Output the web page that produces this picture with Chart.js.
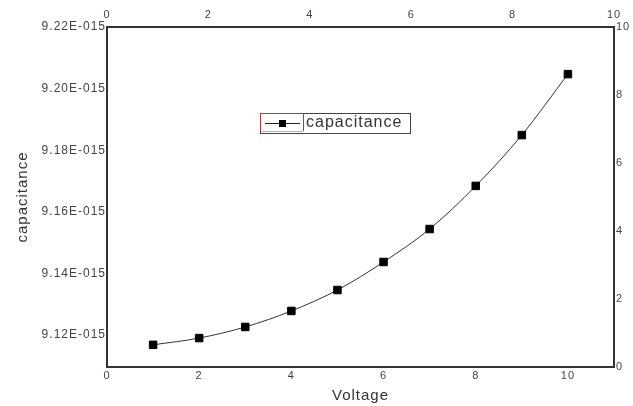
<!DOCTYPE html>
<html>
<head>
<meta charset="utf-8">
<script src="https://cdn.jsdelivr.net/npm/chart.js@4.4.0/dist/chart.umd.min.js"></script>
<style>
html, body { margin: 0; padding: 0; background: #fff; }
</style>
</head>
<body>
<canvas id="capChart" width="633" height="406"></canvas>
<script>
// capacitance is in units of 1E-015
const voltage = [1, 2, 3, 4, 5, 6, 7, 8, 9, 10];
const capacitance = [9.1168, 9.1190, 9.1226, 9.1278, 9.1346, 9.1437, 9.1544, 9.1684, 9.1849, 9.2047];
const capTicks = [9.12, 9.14, 9.16, 9.18, 9.20, 9.22];
const voltTicks = [0, 2, 4, 6, 8, 10];
const topTicks = [0, 2, 4, 6, 8, 10];
const rightTicks = [0, 2, 4, 6, 8, 10];

const fam = '"Liberation Sans", Arial, sans-serif';

// the reference text is slightly letter-spaced
const spacing = {
    id: 'spacing',
    beforeUpdate(chart) { chart.ctx.letterSpacing = '1px'; },
    beforeDraw(chart) { chart.ctx.letterSpacing = '1px'; }
};

// boxed legend sitting inside the plot
const boxLegend = {
    id: 'boxLegend',
    afterDraw(chart) {
        const ctx = chart.ctx;
        const ds = chart.data.datasets[0];
        ctx.save();
        ctx.letterSpacing = '1px';
        ctx.lineWidth = 1;
        ctx.strokeStyle = '#444';
        ctx.strokeRect(260.5, 113.5, 150, 20);
        ctx.strokeStyle = '#b03a3a';
        ctx.beginPath();
        ctx.moveTo(303.5, 131); ctx.lineTo(303.5, 113.5); ctx.lineTo(260.5, 113.5); ctx.lineTo(260.5, 131);
        ctx.stroke();
        ctx.strokeStyle = '#5fd6d6';
        ctx.beginPath(); ctx.moveTo(262, 131.5); ctx.lineTo(303, 131.5); ctx.stroke();
        ctx.strokeStyle = '#222';
        ctx.beginPath(); ctx.moveTo(265, 123.5); ctx.lineTo(300, 123.5); ctx.stroke();
        ctx.fillStyle = '#000';
        ctx.fillRect(279, 120, 7, 7);
        ctx.fillStyle = '#333';
        ctx.font = '16px ' + fam;
        ctx.textBaseline = 'middle';
        ctx.fillText(ds.label, 306, 123);
        ctx.restore();
    }
};

const setTicks = arr => scale => { scale.ticks = arr.map(v => ({ value: v })); };
const noGrid = { display: false, drawTicks: false };
const axisLine = { display: true, color: '#333', width: 2 };

const ctx = document.getElementById('capChart').getContext('2d');
const capChart = new Chart(ctx, {
    type: 'line',
    data: {
        datasets: [{
            label: 'capacitance',
            data: voltage.map((v, i) => ({ x: v, y: capacitance[i] })),
            borderColor: '#333',
            borderWidth: 1,
            cubicInterpolationMode: 'monotone',
            pointStyle: 'rect',
            pointRadius: 5.3,
            pointBackgroundColor: '#000',
            pointBorderColor: '#000',
            pointBorderWidth: 1,
            xAxisID: 'x',
            yAxisID: 'y'
        }]
    },
    options: {
        responsive: false,
        animation: false,
        layout: { padding: 0 },
        plugins: { legend: { display: false }, tooltip: { enabled: false } },
        scales: {
            x: {
                type: 'linear', position: 'bottom', min: 0, max: 11,
                afterBuildTicks: setTicks(voltTicks),
                afterFit: s => { s.height = 39; },
                grid: noGrid, border: axisLine,
                ticks: { padding: 2, color: '#444', font: { size: 11, family: fam } },
                title: { display: true, text: 'Voltage', color: '#333', font: { size: 15, family: fam }, padding: { top: 0, bottom: 1 } }
            },
            x2: {
                type: 'linear', axis: 'x', position: 'top', min: 0, max: 10,
                afterBuildTicks: setTicks(topTicks),
                afterFit: s => { s.height = 27; },
                grid: noGrid, border: axisLine,
                ticks: { padding: 5, color: '#444', font: { size: 11, family: fam } }
            },
            y: {
                type: 'linear', position: 'left', min: 9.1096, max: 9.22,
                afterBuildTicks: setTicks(capTicks),
                afterFit: s => { s.width = 107; },
                grid: noGrid, border: axisLine,
                ticks: { padding: 1, color: '#444', font: { size: 12, family: fam },
                    callback: v => v.toFixed(2) + 'E-015' },
                title: { display: true, text: 'capacitance', color: '#333', font: { size: 15, family: fam }, padding: { top: 14, bottom: 0 } }
            },
            y2: {
                type: 'linear', axis: 'y', position: 'right', min: 0, max: 10,
                afterBuildTicks: setTicks(rightTicks),
                afterFit: s => { s.width = 19; },
                grid: noGrid, border: axisLine,
                ticks: { padding: 2, color: '#444', font: { size: 11, family: fam } }
            }
        }
    },
    plugins: [spacing, boxLegend]
});
</script>
</body>
</html>
